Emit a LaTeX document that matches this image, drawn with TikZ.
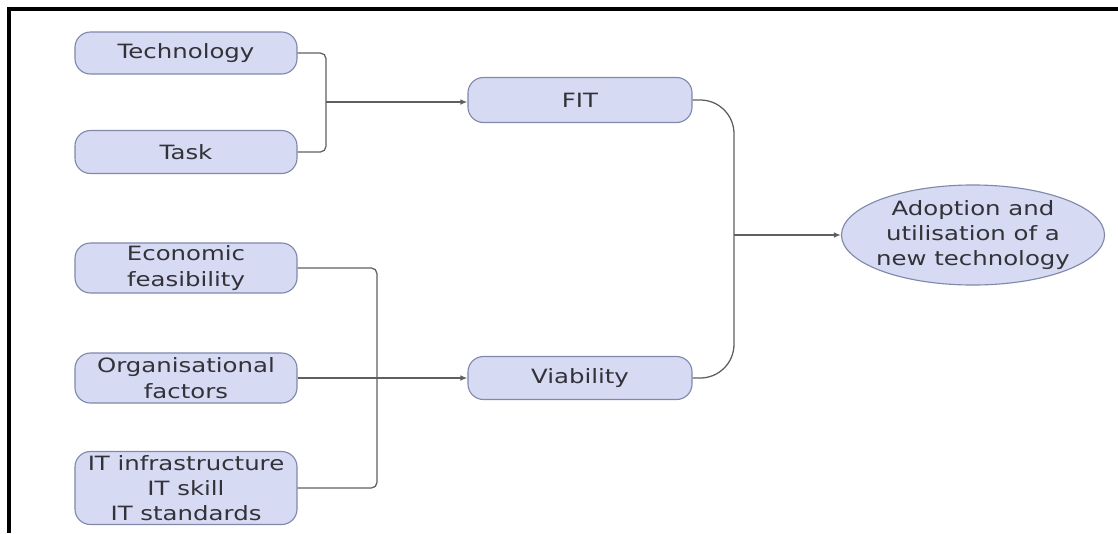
\documentclass[tikz,border=0pt]{standalone}
\usepackage{fontspec}
\setmainfont{DejaVu Sans}[FakeStretch=1.24]
\usetikzlibrary{arrows.meta}
\usetikzlibrary{shapes.geometric}
\definecolor{ColA}{RGB}{128,136,172}
\definecolor{ColB}{RGB}{214,218,242}
\definecolor{ColC}{RGB}{95,95,95}
\definecolor{ColD}{RGB}{50,50,56}
\tikzstyle{TextFont}=[font=\fontsize{14pt}{18pt}\selectfont,text=ColD,align=center]
\tikzstyle{BoxFactor}=[rectangle,rounded corners=11pt,draw=ColA,fill=ColB,line width=0.8pt,
minimum width=5.55cm,inner sep=0pt,TextFont]
\tikzstyle{BoxOutcome}=[ellipse,draw=ColA,fill=ColB,line width=0.8pt,minimum width=6.575cm,
minimum height=2.5cm,inner sep=-8pt,TextFont]
\tikzstyle{EdgeLink}=[ColC,line width=0.9pt,rounded corners=4pt]
\tikzstyle{EdgeArrow}=[EdgeLink,-{Latex[length=5pt,width=4pt]}]

\begin{document}
\begin{tikzpicture}[x=0.025cm,y=-0.025cm]
        \useasboundingbox (0,0) rectangle (1118,533);
        \draw[line width=2.2pt] (9,533) -- (9,9) -- (1118,9);
        % factors
        \node[BoxFactor,minimum height=1.05cm](tech)at(186,53){Technology};
        \node[BoxFactor,minimum height=1.075cm](task)at(186,152){Task};
        \node[BoxFactor,minimum height=1.25cm](eco)at(186,268){Economic\\feasibility};
        \node[BoxFactor,minimum height=1.25cm](org)at(186,378){Organisational\\factors};
        \node[BoxFactor,minimum height=1.825cm](itinf)at(186,488){IT infrastructure\\IT skill\\IT standards};
        % middle column
        \node[BoxFactor,minimum width=5.6cm,minimum height=1.125cm](fit)at(580,100){FIT};
        \node[BoxFactor,minimum width=5.6cm,minimum height=1.075cm](via)at(580,378){Viability};
        \node[BoxOutcome](adopt)at(973,235){Adoption and\\utilisation of a\\new technology};
        % junctions
        \coordinate(jfit)at(326,102);
        \coordinate(jvia)at(377,378);
        \coordinate(jout)at(734,235);
        \draw[EdgeLink](tech.east)-|(jfit)|-(task.east);
        \draw[EdgeArrow](jfit)--(fit.west|-jfit);
        \draw[EdgeLink](eco.east)-|(jvia)|-(itinf.east);
        \draw[EdgeArrow](org.east)--(via.west);
        \draw[EdgeLink,rounded corners=24pt](fit.east)-|(jout)|-(via.east);
        \draw[EdgeArrow](jout)--(adopt.west);
    \end{tikzpicture}
\end{document}
